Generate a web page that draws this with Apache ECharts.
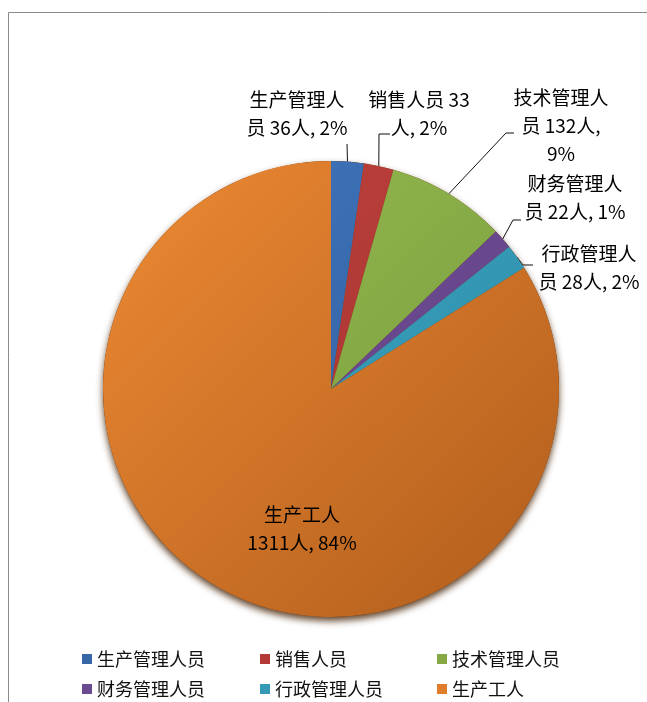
<!DOCTYPE html>
<html>
<head>
<meta charset="utf-8">
<script src="https://cdn.jsdelivr.net/npm/echarts@6/dist/echarts.min.js"></script>
<style>
  html, body { margin: 0; padding: 0; background: #fff; }
  #main { width: 647px; height: 702px; }
</style>
</head>
<body>
<div id="main"></div>
<script>
// 人员构成
const names = ['生产管理人员', '销售人员', '技术管理人员', '财务管理人员', '行政管理人员', '生产工人']
const counts = [36, 33, 132, 22, 28, 1311]
const percents = [2, 2, 9, 1, 2, 84]

// 颜色：亮 -> 暗
const lightColors = ['#4176bd', '#c2433f', '#98ba52', '#7a58a0', '#3fabc8', '#ec8933']
const darkColors = ['#2c5b98', '#9c2f2b', '#739a38', '#58387d', '#2a88a3', '#b25e1d']
const legendColors = ['#3867a8', '#b33a37', '#86a945', '#6a4b90', '#3599b6', '#e07d2c']

// 标签换行位置（字符数）、标签中心、引导线折点
const wrapAt = [[5], [7], [5, 13], [5], [5], [4]]
const labelSpots = [[297, 114], [419, 114], [561, 126], [575, 198], [589, 268], [302, 529]]
const guideEnds = [
  [[347, 144]],
  [[379, 134], [390, 134]],
  [[506, 133], [514, 133]],
  [[513, 220], [521, 220]],
  [[523, 265], [533, 265]],
  null,
]
// 图例列位置
const legendCols = [82, 260, 437]

const chart = echarts.init(document.getElementById('main'))

function wrapText(str, breaks) {
  let out = []
  let start = 0
  breaks.forEach((b) => {
    out.push(str.slice(start, b).trim())
    start = b
  })
  out.push(str.slice(start).trim())
  return out.join('\n')
}

let pieData = names.map((name, i) => {
  let item = {
    name: name,
    value: counts[i],
    itemStyle: {
      color: new echarts.graphic.LinearGradient(110, 170, 540, 610, [
        { offset: 0, color: lightColors[i] },
        { offset: 1, color: darkColors[i] },
      ], true),
    },
  }
  if (i === names.length - 1) {
    item.label = { position: 'inside' }
    item.labelLine = { show: false }
  }
  return item
})

let legendItem = (name) => ({
  name: name,
  itemStyle: { color: legendColors[names.indexOf(name)] },
})

let option = {
  animation: false,
  backgroundColor: '#fff',
  graphic: [
    {
      type: 'rect',
      silent: true,
      shape: { x: 8.5, y: 12.5, width: 700, height: 720 },
      style: { fill: 'none', stroke: '#8a8a8a', lineWidth: 1 },
    },
  ],
  legend: legendCols.map((x, c) => ({
    left: x,
    top: 649,
    orient: 'vertical',
    icon: 'rect',
    itemWidth: 10,
    itemHeight: 10,
    itemGap: 10,
    padding: 0,
    selectedMode: false,
    textStyle: {
      fontFamily: 'Noto Sans CJK SC',
      fontSize: 18,
      lineHeight: 20,
      color: '#111',
    },
    data: [names[c], names[c + 3]].map(legendItem),
  })),
  series: [
    // 阴影底盘
    {
      type: 'pie',
      silent: true,
      center: [331, 389],
      radius: 228,
      label: { show: false },
      labelLine: { show: false },
      itemStyle: {
        color: '#6b3810',
        shadowBlur: 7,
        shadowOffsetY: 4,
        shadowColor: 'rgba(70, 35, 5, 0.85)',
      },
      data: [{ name: '', value: 1 }],
    },
    {
      type: 'pie',
      center: [331, 389],
      radius: 228,
      startAngle: 90,
      clockwise: true,
      avoidLabelOverlap: false,
      label: {
        show: true,
        position: 'outside',
        fontFamily: 'Noto Sans CJK SC',
        fontSize: 19,
        lineHeight: 28,
        color: '#000',
        align: 'center',
        formatter: (p) => {
          let full = p.name + ' ' + p.value + '人, ' + percents[p.dataIndex] + '%'
          return wrapText(full, wrapAt[p.dataIndex])
        },
      },
      labelLine: {
        show: true,
        length: 10,
        length2: 10,
        lineStyle: { color: '#111', width: 1 },
      },
      labelLayout: (p) => {
        let s = labelSpots[p.dataIndex]
        let res = { x: s[0], y: s[1], align: 'center', verticalAlign: 'middle' }
        let ends = guideEnds[p.dataIndex]
        if (ends && p.labelLinePoints) {
          res.labelLinePoints = [p.labelLinePoints[0]].concat(ends)
        }
        return res
      },
      data: pieData,
    },
  ],
}

chart.setOption(option)
</script>
</body>
</html>
